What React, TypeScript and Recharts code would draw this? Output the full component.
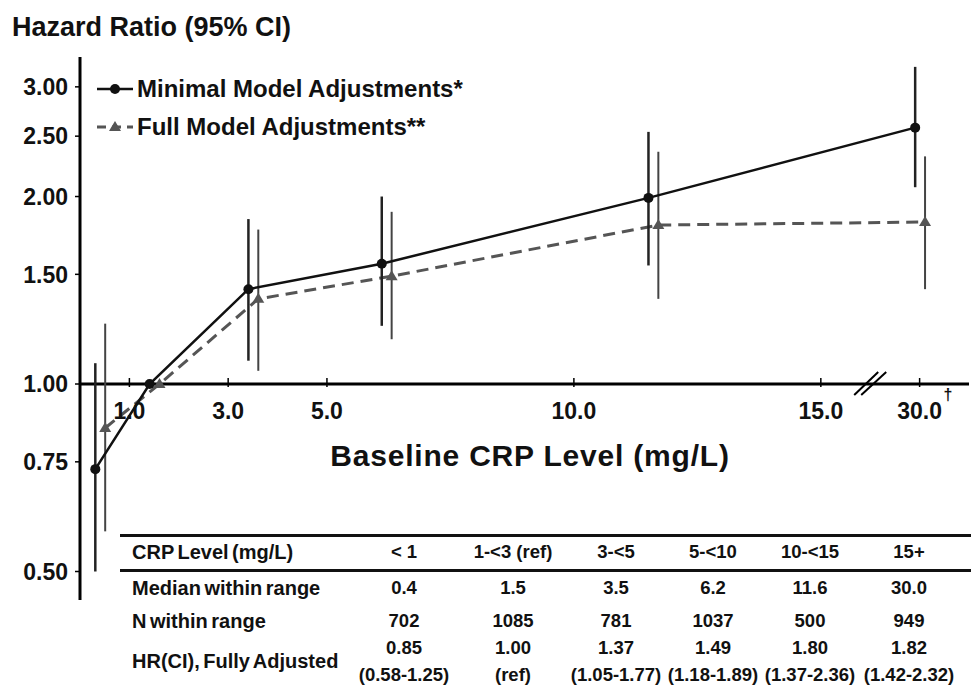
import React from 'react'
import {
  ComposedChart, Line, XAxis, YAxis, ErrorBar, ReferenceLine, ReferenceDot,
} from 'recharts'

// CRP groups (table + plotted medians)
const crpRanges = ['< 1', '1-<3 (ref)', '3-<5', '5-<10', '10-<15', '15+']
const medians = [0.4, 1.5, 3.5, 6.2, 11.6, 30.0]
const nWithin = [702, 1085, 781, 1037, 500, 949]

// Minimal model
const minimalHR = [0.73, 1.0, 1.42, 1.56, 1.99, 2.58]
const minimalLow = [0.5, 1.0, 1.09, 1.24, 1.55, 2.07]
const minimalHigh = [1.08, 1.0, 1.84, 2.0, 2.54, 3.23]

// Full model (from the table)
const fullHR = [0.85, 1.0, 1.37, 1.49, 1.8, 1.82]
const fullLow = [0.58, 1.0, 1.05, 1.18, 1.37, 1.42]
const fullHigh = [1.25, 1.0, 1.77, 1.89, 2.36, 2.32]
const refIndex = 1

const yTicks = [0.5, 0.75, 1, 1.5, 2, 2.5, 3]
const xTicks = [1, 3, 5, 10, 15, 30]
const xTickNotes = ['', '', '', '', '', '†']

const FONT = "'Liberation Sans', Arial, Helvetica, sans-serif"
const BREAK_AT = 16
const BROKEN_POS = 17

// values past the break are drawn at a fixed spot right of it
const axisPos = (v: number) => (v > 15 ? BROKEN_POS : v)

const minimalData = medians.map((m, i) => ({
  x: axisPos(m) - 0.09,
  hr: minimalHR[i],
  err: [minimalHR[i] - minimalLow[i], minimalHigh[i] - minimalHR[i]],
}))

const fullData = medians.map((m, i) => ({
  x: axisPos(m) + 0.11,
  hr: fullHR[i],
  err: [fullHR[i] - fullLow[i], fullHigh[i] - fullHR[i]],
}))

// table column centres (px)
const colCenters = [404, 513, 616, 713, 810, 909]

function Triangle(props: any) {
  const { cx, cy } = props
  if (cx == null || cy == null) return null
  return <path d={`M${cx},${cy - 6} L${cx + 6},${cy + 4} L${cx - 6},${cy + 4} Z`} fill="#555" />
}

function XTick({ cx, cy, label, note }: any) {
  return (
    <g>
      <line x1={cx} x2={cx} y1={cy - 6} y2={cy + 3} stroke="#000" strokeWidth={1.5} />
      <text x={cx} y={cy + 35} textAnchor="middle" fontSize={23} fontWeight={700} fill="#111" fontFamily={FONT}>
        {label}
      </text>
      {note && (
        <text x={cx + 24} y={cy + 16} fontSize={16} fontWeight={700} fill="#111" fontFamily={FONT}>
          {note}
        </text>
      )}
    </g>
  )
}

function AxisBreak({ cx, cy }: any) {
  return (
    <g stroke="#000" strokeWidth={2}>
      <line x1={cx - 16} y1={cy + 11} x2={cx + 8} y2={cy - 12} />
      <line x1={cx - 9} y1={cy + 11} x2={cx + 16} y2={cy - 12} />
    </g>
  )
}

const cellStyle: React.CSSProperties = {
  position: 'absolute', transform: 'translate(-50%, -50%)', whiteSpace: 'nowrap', textAlign: 'center', fontSize: 18.5,
}

function TableRow({ top, label, cells }: { top: number; label: string; cells: React.ReactNode[] }) {
  return (
    <>
      <div style={{ position: 'absolute', left: 132, top, transform: 'translateY(-50%)', whiteSpace: 'nowrap', wordSpacing: -2 }}>{label}</div>
      {cells.map((c, i) => (
        <div key={i} style={{ ...cellStyle, left: colCenters[i], top }}>{c}</div>
      ))}
    </>
  )
}

export default function App() {
  return (
    <div style={{ position: 'absolute', left: 0, top: 0, width: 971, height: 692, background: '#fff', fontFamily: FONT, color: '#111' }}>
      <div style={{ position: 'absolute', left: 12, top: 12, fontSize: 27, fontWeight: 700, whiteSpace: 'nowrap' }}>
        Hazard Ratio (95% CI)
      </div>

      <ComposedChart width={971} height={692} margin={{ top: 57, right: 2, bottom: 92, left: 0 }}>
        <XAxis type="number" dataKey="x" domain={[0, 18]} hide allowDataOverflow />
        <YAxis
          type="number"
          scale="log"
          domain={[0.45, 3.35]}
          ticks={yTicks}
          allowDataOverflow
          width={80}
          axisLine={{ stroke: '#000', strokeWidth: 3 }}
          tickLine={{ stroke: '#000', strokeWidth: 1.5 }}
          tickSize={5}
          tickMargin={7}
          tick={{ fontSize: 23, fontWeight: 700, fill: '#111', fontFamily: FONT }}
          tickFormatter={(v: number) => v.toFixed(2)}
        />
        <ReferenceLine y={1} stroke="#000" strokeWidth={3} />
        {xTicks.map((t, i) => (
          <ReferenceDot
            key={t}
            x={axisPos(t)}
            y={1}
            r={0}
            ifOverflow="visible"
            shape={(p: any) => <XTick cx={p.cx} cy={p.cy} label={t.toFixed(1)} note={xTickNotes[i]} />}
          />
        ))}
        <ReferenceDot x={BREAK_AT} y={1} r={0} ifOverflow="visible" shape={(p: any) => <AxisBreak cx={p.cx} cy={p.cy} />} />

        <Line
          data={fullData}
          dataKey="hr"
          stroke="#555"
          strokeWidth={3}
          strokeDasharray="12 7"
          dot={<Triangle />}
          activeDot={false}
          isAnimationActive={false}
        >
          <ErrorBar dataKey="err" width={0} stroke="#444" strokeWidth={2} direction="y" />
        </Line>
        <Line
          data={minimalData}
          dataKey="hr"
          stroke="#111"
          strokeWidth={2.5}
          dot={{ r: 5, fill: '#111', stroke: '#111', strokeWidth: 0 }}
          activeDot={false}
          isAnimationActive={false}
        >
          <ErrorBar dataKey="err" width={0} stroke="#222" strokeWidth={2.5} direction="y" />
        </Line>
      </ComposedChart>

      {/* legend */}
      <div style={{ position: 'absolute', left: 97, top: 70, fontSize: 24, fontWeight: 700, lineHeight: '38px' }}>
        <div style={{ display: 'flex', alignItems: 'center', height: 38 }}>
          <svg width={40} height={20}>
            <line x1={0} x2={36} y1={10} y2={10} stroke="#111" strokeWidth={2.5} />
            <circle cx={18} cy={10} r={5} fill="#111" />
          </svg>
          <span>Minimal Model Adjustments*</span>
        </div>
        <div style={{ display: 'flex', alignItems: 'center', height: 38 }}>
          <svg width={40} height={20}>
            <line x1={0} x2={36} y1={10} y2={10} stroke="#555" strokeWidth={3} strokeDasharray="9 6" />
            <path d="M18,4 L24,14 L12,14 Z" fill="#555" />
          </svg>
          <span>Full Model Adjustments**</span>
        </div>
      </div>

      <div style={{ position: 'absolute', left: 530, top: 456, transform: 'translate(-50%, -50%)', fontSize: 30, fontWeight: 700, letterSpacing: 0.8, whiteSpace: 'nowrap' }}>
        Baseline CRP Level (mg/L)
      </div>

      {/* table */}
      <div style={{ position: 'absolute', left: 0, top: 0, width: 971, height: 692, fontSize: 20, fontWeight: 700 }}>
        <div style={{ position: 'absolute', left: 120, right: 0, top: 534, height: 3, background: '#111' }} />
        <div style={{ position: 'absolute', left: 120, right: 0, top: 569, height: 3, background: '#111' }} />
        <TableRow top={552} label="CRP Level (mg/L)" cells={crpRanges} />
        <TableRow top={588} label="Median within range" cells={medians.map(m => m.toFixed(1))} />
        <TableRow top={621} label="N within range" cells={nWithin.map(String)} />
        <TableRow
          top={661}
          label="HR(CI), Fully Adjusted"
          cells={fullHR.map((h, i) => (
            <div key={i} style={{ lineHeight: '27px' }}>
              <div>{h.toFixed(2)}</div>
              <div>{i === refIndex ? '(ref)' : `(${fullLow[i].toFixed(2)}-${fullHigh[i].toFixed(2)})`}</div>
            </div>
          ))}
        />
      </div>
    </div>
  )
}
